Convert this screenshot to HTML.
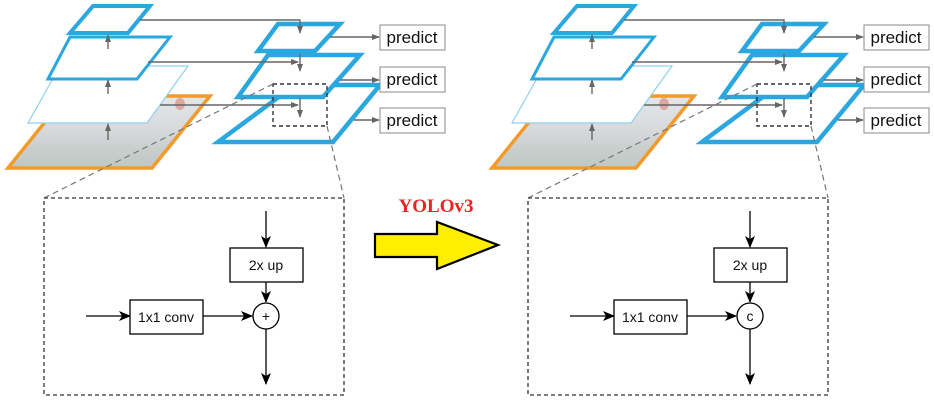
<!DOCTYPE html>
<html><head><meta charset="utf-8"><style>html,body{margin:0;padding:0;background:#fff;width:934px;height:406px;overflow:hidden}</style></head>
<body>
<svg width="934" height="406" viewBox="0 0 934 406" xmlns="http://www.w3.org/2000/svg" font-family="Liberation Sans, sans-serif">
<defs>
<marker id="ga" markerWidth="8" markerHeight="8" refX="7" refY="4" orient="auto" markerUnits="userSpaceOnUse"><path d="M0,1 L8,4 L0,7 z" fill="#666"/></marker>
<marker id="ba" markerWidth="12" markerHeight="10" refX="11" refY="5" orient="auto" markerUnits="userSpaceOnUse"><path d="M0,0 L12,5 L0,10 L3,5 z" fill="#000"/></marker>
<linearGradient id="ph" x1="0" y1="0" x2="0" y2="1"><stop offset="0" stop-color="#e4e7ea"/><stop offset="0.5" stop-color="#d6d8da"/><stop offset="0.75" stop-color="#c8cecc"/><stop offset="1" stop-color="#bfc8c4"/></linearGradient>
</defs>

<g>
<polygon points="66,96 210,96 152,168 8,168" fill="url(#ph)" stroke="#f39a2a" stroke-width="3.5"/>
<ellipse cx="180" cy="104" rx="5" ry="6" fill="#d98070" opacity="0.6"/>
<polygon points="60,66 188,66 147,123 28,123" fill="#fff" stroke="#8fd0ef" stroke-width="1.2"/>
<polygon points="70,37 170,37 137,79 48,79" fill="#fff" stroke="#2aa7de" stroke-width="3"/>
<polygon points="93,6 150,6 128,33 70,33" fill="#fff" stroke="#2aa7de" stroke-width="4"/>
<g stroke="#666" stroke-width="1.4" marker-end="url(#ga)">
<line x1="108" y1="49" x2="108" y2="35"/>
<line x1="108" y1="94" x2="108" y2="80"/>
<line x1="108" y1="140" x2="108" y2="124"/>
</g>
<polygon points="295,85 380,85 333,142 218,142" fill="#fff" stroke="#2aa7de" stroke-width="4.5"/>
<polygon points="268,55 360,55 323,97 238,97" fill="#fff" stroke="#2aa7de" stroke-width="4.5"/>
<polygon points="278,24 340,24 315,51 258,51" fill="#fff" stroke="#2aa7de" stroke-width="4.5"/>
<g stroke="#666" stroke-width="1.4" fill="none">
<polyline points="140,20 300,20 300,33" marker-end="url(#ga)"/>
<line x1="148" y1="62" x2="298" y2="62" marker-end="url(#ga)"/>
<line x1="300" y1="54" x2="300" y2="71" marker-end="url(#ga)"/>
<line x1="160" y1="105" x2="298" y2="105" marker-end="url(#ga)"/>
<line x1="300" y1="98" x2="300" y2="117" marker-end="url(#ga)"/>
<line x1="330" y1="37" x2="379" y2="37" marker-end="url(#ga)"/>
<line x1="340" y1="80" x2="379" y2="80" marker-end="url(#ga)"/>
<line x1="354" y1="120" x2="379" y2="120" marker-end="url(#ga)"/>
</g>
<g fill="#fff" stroke="#888" stroke-width="1">
<rect x="380" y="25" width="65" height="25"/>
<rect x="380" y="67" width="65" height="25"/>
<rect x="380" y="108" width="65" height="25"/>
</g>
<g font-size="17" fill="#111" text-anchor="middle">
<text x="412" y="43">predict</text>
<text x="412" y="85">predict</text>
<text x="412" y="126">predict</text>
</g>
<rect x="273" y="84" width="54" height="42" fill="none" stroke="#333" stroke-width="1.4" stroke-dasharray="4,3"/>
<g stroke="#777" stroke-width="1.2" stroke-dasharray="6,4" fill="none">
<line x1="273" y1="84" x2="44" y2="198"/>
<line x1="327" y1="126" x2="344" y2="198"/>
</g>
<rect x="44" y="198" width="300" height="197" fill="none" stroke="#333" stroke-width="1.3" stroke-dasharray="4,3"/>
<g stroke="#000" stroke-width="1.3" fill="none">
<line x1="266" y1="211" x2="266" y2="247" marker-end="url(#ba)"/>
<line x1="266" y1="282" x2="266" y2="302" marker-end="url(#ba)"/>
<line x1="86" y1="316" x2="130" y2="316" marker-end="url(#ba)"/>
<line x1="203" y1="316" x2="252" y2="316" marker-end="url(#ba)"/>
<line x1="266" y1="329" x2="266" y2="384" marker-end="url(#ba)"/>
<rect x="230" y="248" width="73" height="34" fill="#fff"/>
<rect x="130" y="300" width="73" height="34" fill="#fff"/>
<circle cx="266" cy="316" r="13" fill="#fff"/>
</g>
<g font-size="14" fill="#111" text-anchor="middle">
<text x="266" y="270">2x up</text>
<text x="166" y="322">1x1 conv</text>
<text x="266" y="321">+</text>
</g>
</g>

<g transform="translate(484,0)">
<polygon points="66,96 210,96 152,168 8,168" fill="url(#ph)" stroke="#f39a2a" stroke-width="3.5"/>
<ellipse cx="180" cy="104" rx="5" ry="6" fill="#d98070" opacity="0.6"/>
<polygon points="60,66 188,66 147,123 28,123" fill="#fff" stroke="#8fd0ef" stroke-width="1.2"/>
<polygon points="70,37 170,37 137,79 48,79" fill="#fff" stroke="#2aa7de" stroke-width="3"/>
<polygon points="93,6 150,6 128,33 70,33" fill="#fff" stroke="#2aa7de" stroke-width="4"/>
<g stroke="#666" stroke-width="1.4" marker-end="url(#ga)">
<line x1="108" y1="49" x2="108" y2="35"/>
<line x1="108" y1="94" x2="108" y2="80"/>
<line x1="108" y1="140" x2="108" y2="124"/>
</g>
<polygon points="295,85 380,85 333,142 218,142" fill="#fff" stroke="#2aa7de" stroke-width="4.5"/>
<polygon points="268,55 360,55 323,97 238,97" fill="#fff" stroke="#2aa7de" stroke-width="4.5"/>
<polygon points="278,24 340,24 315,51 258,51" fill="#fff" stroke="#2aa7de" stroke-width="4.5"/>
<g stroke="#666" stroke-width="1.4" fill="none">
<polyline points="140,20 300,20 300,33" marker-end="url(#ga)"/>
<line x1="148" y1="62" x2="298" y2="62" marker-end="url(#ga)"/>
<line x1="300" y1="54" x2="300" y2="71" marker-end="url(#ga)"/>
<line x1="160" y1="105" x2="298" y2="105" marker-end="url(#ga)"/>
<line x1="300" y1="98" x2="300" y2="117" marker-end="url(#ga)"/>
<line x1="330" y1="37" x2="379" y2="37" marker-end="url(#ga)"/>
<line x1="340" y1="80" x2="379" y2="80" marker-end="url(#ga)"/>
<line x1="354" y1="120" x2="379" y2="120" marker-end="url(#ga)"/>
</g>
<g fill="#fff" stroke="#888" stroke-width="1">
<rect x="380" y="25" width="65" height="25"/>
<rect x="380" y="67" width="65" height="25"/>
<rect x="380" y="108" width="65" height="25"/>
</g>
<g font-size="17" fill="#111" text-anchor="middle">
<text x="412" y="43">predict</text>
<text x="412" y="85">predict</text>
<text x="412" y="126">predict</text>
</g>
<rect x="273" y="84" width="54" height="42" fill="none" stroke="#333" stroke-width="1.4" stroke-dasharray="4,3"/>
<g stroke="#777" stroke-width="1.2" stroke-dasharray="6,4" fill="none">
<line x1="273" y1="84" x2="44" y2="198"/>
<line x1="327" y1="126" x2="344" y2="198"/>
</g>
<rect x="44" y="198" width="300" height="197" fill="none" stroke="#333" stroke-width="1.3" stroke-dasharray="4,3"/>
<g stroke="#000" stroke-width="1.3" fill="none">
<line x1="266" y1="211" x2="266" y2="247" marker-end="url(#ba)"/>
<line x1="266" y1="282" x2="266" y2="302" marker-end="url(#ba)"/>
<line x1="86" y1="316" x2="130" y2="316" marker-end="url(#ba)"/>
<line x1="203" y1="316" x2="252" y2="316" marker-end="url(#ba)"/>
<line x1="266" y1="329" x2="266" y2="384" marker-end="url(#ba)"/>
<rect x="230" y="248" width="73" height="34" fill="#fff"/>
<rect x="130" y="300" width="73" height="34" fill="#fff"/>
<circle cx="266" cy="316" r="13" fill="#fff"/>
</g>
<g font-size="14" fill="#111" text-anchor="middle">
<text x="266" y="270">2x up</text>
<text x="166" y="322">1x1 conv</text>
<text x="266" y="321">c</text>
</g>
</g>

<text x="436" y="212" font-family="Liberation Serif, serif" font-weight="bold" font-size="19" fill="#ee2222" text-anchor="middle">YOLOv3</text>
<polygon points="375,234 437,234 437,222 498,245 437,269 437,257 375,257" fill="#ffee00" stroke="#000" stroke-width="2.2"/>
</svg>
</body></html>
